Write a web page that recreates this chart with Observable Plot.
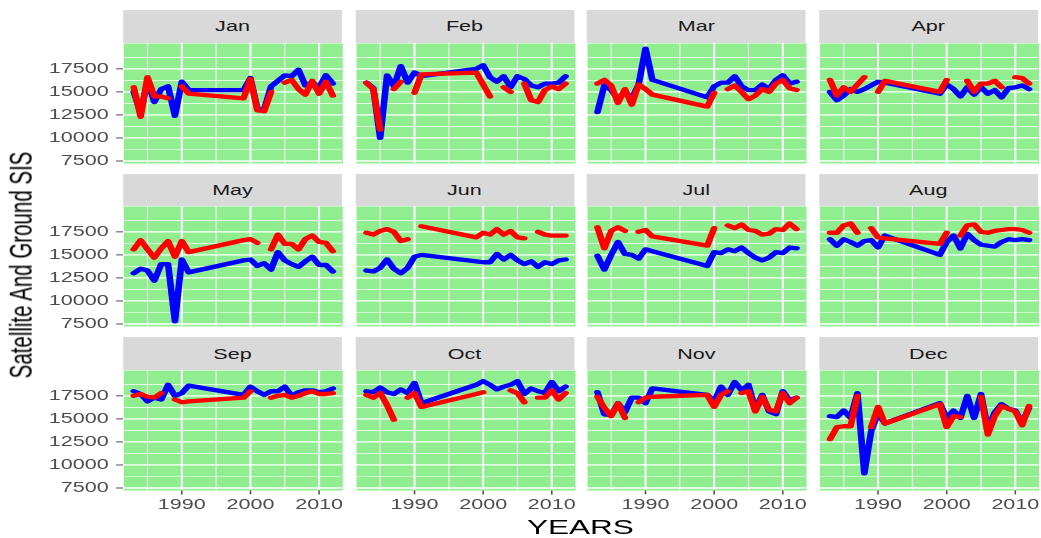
<!DOCTYPE html>
<html><head><meta charset="utf-8">
<script src="https://cdn.jsdelivr.net/npm/d3@7"></script>
<script src="https://cdn.jsdelivr.net/npm/@observablehq/plot@0.6"></script>
<style>
html,body{margin:0;padding:0;background:#fff;width:1041px;height:538px;overflow:hidden;}
#wrap{position:absolute;left:0;top:0;width:676px;height:538px;transform:scaleX(1.54);transform-origin:0 0;font-family:"Liberation Sans",Arial,sans-serif;}
.strip{position:absolute;background:#D9D9D9;color:#1A1A1A;font-size:14px;display:flex;align-items:center;justify-content:center;}
.title{position:absolute;color:#000;font-size:20.5px;line-height:1;white-space:nowrap;}
</style></head><body><div id="wrap"></div>
<script>
// ---- data ----
const months = ["Jan","Feb","Mar","Apr","May","Jun","Jul","Aug","Sep","Oct","Nov","Dec"];
const years = [1983,1984,1985,1986,1987,1988,1989,1990,1991,1999,2000,2001,2002,2003,2004,2005,2006,2007,2008,2009,2010,2011,2012];
const yTicks = [7500,10000,12500,15000,17500];
const yMinor = [8750,11250,13750,16250,18750];
const xTicks = [1990,2000,2010];
const xMinor = [1985,1995,2005];

// Satellite (blue) and Ground (red) SIS per month, one value per year above (null = missing)
const satJan = [15000,12700,16200,13900,15300,15600,12400,16100,15200,15200,16500,13200,13100,15600,16200,16800,16700,17400,15700,16000,15500,16800,15900];
const gndJan = [15500,12300,16600,14500,14500,14300,null,15600,14800,14300,16400,13000,12900,15000,null,16000,16300,15300,14700,16200,14800,16100,14600];
const satFeb = [16000,15400,10000,16800,15600,17800,16000,17100,16700,17500,17900,16600,16100,16700,15500,16700,16400,15700,15500,15900,15900,16000,16700];
const gndFeb = [16000,15300,10900,null,15300,16100,null,14900,16900,17100,15800,14500,null,15500,15000,null,15900,14100,13900,15200,15600,15300,15900];
const satMar = [12800,15700,15200,14200,15000,14300,15800,19700,16300,14400,15600,16000,16000,16700,15600,15200,15200,15800,15300,16300,16800,15900,16100];
const gndMar = [15900,16300,15700,13800,15300,13600,15800,15300,14700,13400,14900,null,15300,15700,15000,14200,14600,15300,15000,15900,16300,15400,15200];
const satApr = [15000,14100,14600,15300,15000,15300,15700,16100,16000,14800,15800,15300,14500,15500,14700,15500,14800,15200,14400,15400,15500,15700,15300];
const gndApr = [16300,14600,15500,15000,15800,16600,null,15000,16200,15000,16300,null,null,16200,15000,15900,15900,16200,15500,null,16600,16500,15900];
const satMay = [13000,13500,13300,12200,14000,14000,7800,14500,13100,14400,14500,13800,14100,13400,15300,14400,14000,13700,14300,14800,13900,13900,13200];
const gndMay = [15600,16600,15600,14700,15700,16500,14800,16500,15300,16600,16700,16300,null,15600,17200,16200,16200,15600,16700,17100,16400,16300,15400];
const satJun = [13300,13200,13600,14500,13500,13000,13600,14800,15000,14300,14200,14200,15100,14500,15000,14400,14000,14300,13700,14200,14000,14400,14500];
const gndJun = [17400,17200,17600,17800,17500,16500,16700,null,18100,16900,17400,17200,17800,17200,17600,16900,16800,null,17500,17200,17100,17100,17100];
const satJul = [14900,13400,15000,16400,15100,15000,14600,15600,15400,13800,15300,15200,15600,15400,15800,15200,14700,14400,14700,15300,15200,15800,15700];
const gndJul = [18000,15700,17600,18000,17600,null,17500,17700,17000,16000,17900,null,18200,17900,18300,17700,17600,17200,17300,17800,17700,18400,17800];
const satAug = [16700,16000,16700,16400,16000,16500,16600,15800,17100,15000,16400,17100,15700,17300,16600,16100,16000,15900,16400,16700,16600,16700,16600];
const gndAug = [17400,17400,18200,18400,17400,null,17900,16900,16800,16200,17400,null,17100,18200,18300,17500,17400,17600,17700,17800,17800,17700,17400];
const satSep = [18000,17700,16900,17300,17100,18700,17500,17800,18600,17600,18500,18000,17600,18000,18000,18500,17500,17900,18100,18100,17900,18000,18300];
const gndSep = [17500,17700,17400,17300,17800,null,17100,16800,16900,17300,18000,null,null,17300,17500,17600,17300,17500,17800,18000,17700,17700,17800];
const satOct = [18000,17900,18400,17900,17700,18200,17800,18900,16700,18700,19100,18700,18200,18500,18700,19100,17700,18300,18000,17800,19000,18000,18500];
const gndOct = [17600,17300,17800,16500,14900,null,17300,17800,16300,17700,17900,null,null,null,18100,17800,16800,null,17300,17300,18100,17100,17800];
const satNov = [17900,15500,15400,16700,15700,17300,17300,16700,18300,17600,16900,18500,17600,19000,18100,18700,16000,17600,15800,15500,18000,17000,17300];
const gndNov = [17400,16200,15300,16700,15100,null,16800,17300,17400,17600,16300,17600,18000,null,17800,18000,15800,17400,16000,15800,17800,16700,17300];
const satDec = [15300,15200,15900,15100,17800,9100,13700,15600,14500,16700,15100,15900,15100,17500,15100,17700,13900,15700,16600,16100,15900,14600,16200];
const gndDec = [12800,14100,14200,14200,17500,null,14100,16300,14500,16600,14100,15300,15200,null,null,17400,13300,15300,16400,16100,15800,14300,16400];

const satellite = {Jan:satJan,Feb:satFeb,Mar:satMar,Apr:satApr,May:satMay,Jun:satJun,Jul:satJul,Aug:satAug,Sep:satSep,Oct:satOct,Nov:satNov,Dec:satDec};
const ground = {Jan:gndJan,Feb:gndFeb,Mar:gndMar,Apr:gndApr,May:gndMay,Jun:gndJun,Jul:gndJul,Aug:gndAug,Sep:gndSep,Oct:gndOct,Nov:gndNov,Dec:gndDec};

// ---- layout (unscaled coordinates; the whole figure is stretched by scaleX) ----
const PANEL_X0 = 79.9, PANEL_W = 142.2, COL_PITCH = 150.6;
const STRIP_Y0 = 10, ROW_PITCH = 163.7, STRIP_H = 32.5, PANEL_H = 120;
const xDomain = [1981.55, 2013.45];
const yDomain = [7230, 20250];

const wrap = document.getElementById("wrap");

months.forEach((m, i) => {
  const col = i % 4, row = Math.floor(i / 4);
  const px = PANEL_X0 + col * COL_PITCH;
  const sy = STRIP_Y0 + row * ROW_PITCH;

  const strip = document.createElement("div");
  strip.className = "strip";
  strip.style.left = px + "px";
  strip.style.top = sy + "px";
  strip.style.width = PANEL_W + "px";
  strip.style.height = STRIP_H + "px";
  strip.textContent = m;
  wrap.appendChild(strip);

  const sat = years.map((y, k) => ({year: y, value: satellite[m][k]}));
  const gnd = years.map((y, k) => ({year: y, value: ground[m][k]}));
  const ml = col === 0 ? PANEL_X0 : 0;
  const mb = row === 2 ? 30 : 0;

  const chart = Plot.plot({
    width: PANEL_W + ml,
    height: PANEL_H + mb,
    marginLeft: ml, marginRight: 0, marginTop: 0, marginBottom: mb,
    style: {fontFamily: '"Liberation Sans", Arial, sans-serif', fontSize: "14px", color: "#4D4D4D", background: "transparent", overflow: "visible", maxWidth: "none"},
    x: {domain: xDomain, axis: row === 2 ? "bottom" : null, ticks: xTicks, tickFormat: d => String(d), tickSize: 4.4, tickPadding: 4, label: null},
    y: {domain: yDomain, axis: col === 0 ? "left" : null, ticks: yTicks, tickFormat: d => String(d), tickSize: 4.5, tickPadding: 5.3, label: null},
    marks: [
      Plot.frame({fill: "#90EE90", stroke: "none"}),
      Plot.ruleY(yMinor, {stroke: "#fff", strokeWidth: 0.65}),
      Plot.ruleX(xMinor, {stroke: "#fff", strokeWidth: 0.65}),
      Plot.ruleY(yTicks, {stroke: "#fff", strokeWidth: 1.3}),
      Plot.ruleX(xTicks, {stroke: "#fff", strokeWidth: 1.3}),
      Plot.line(sat, {x: "year", y: "value", stroke: "#0000FF", strokeWidth: 4.3}),
      Plot.line(gnd, {x: "year", y: "value", stroke: "#FF0000", strokeWidth: 4.3})
    ]
  });
  chart.style.position = "absolute";
  chart.style.left = (px - ml) + "px";
  chart.style.top = (sy + STRIP_H) + "px";
  wrap.appendChild(chart);
});

const yTitle = document.createElement("div");
yTitle.className = "title";
yTitle.textContent = "Satellite And Ground SIS";
yTitle.style.left = "14.3px";
yTitle.style.top = "265px";
yTitle.style.transform = "translate(-50%,-50%) rotate(-90deg)";
wrap.appendChild(yTitle);

const xTitle = document.createElement("div");
xTitle.className = "title";
xTitle.textContent = "YEARS";
xTitle.style.left = (PANEL_X0 + (3 * COL_PITCH + PANEL_W) / 2) + "px";
xTitle.style.top = "516.5px";
xTitle.style.transform = "translateX(-50%)";
wrap.appendChild(xTitle);
</script></body></html>
